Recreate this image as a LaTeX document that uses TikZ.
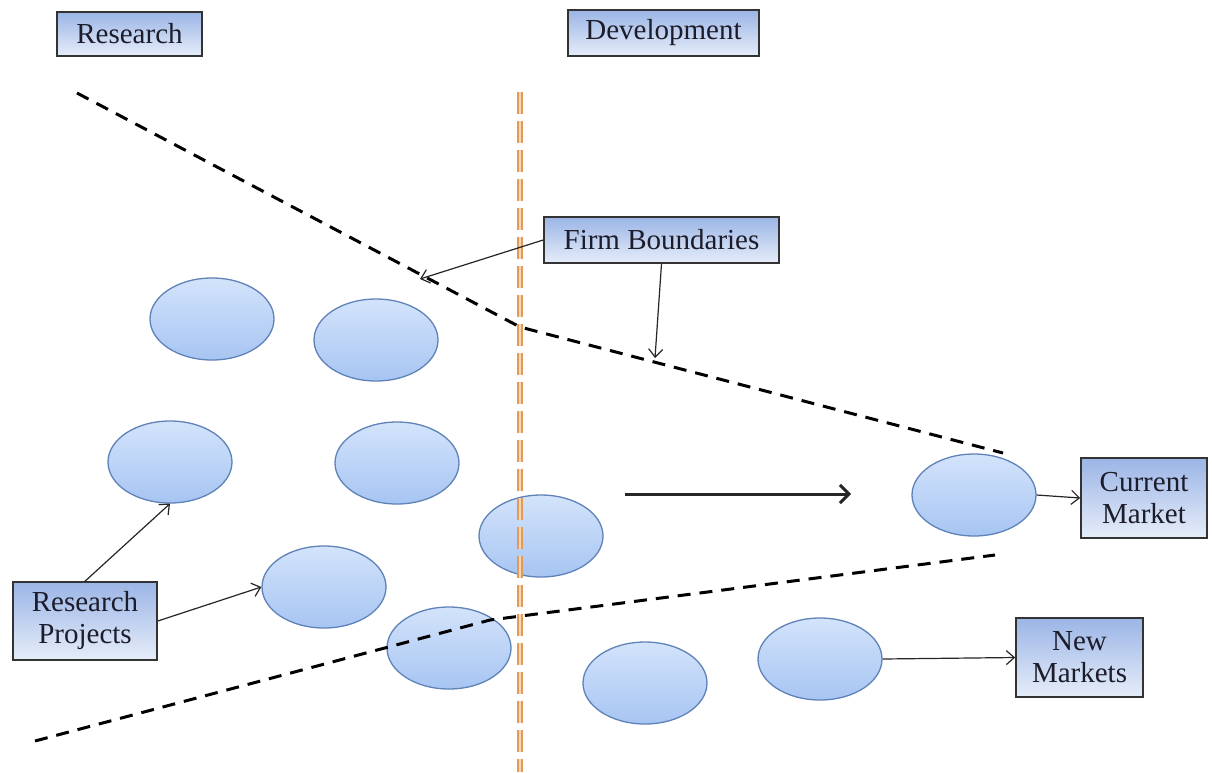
\documentclass[tikz,border=0pt]{standalone}
\usepackage{fontspec}
\setmainfont{Liberation Serif}
\usetikzlibrary{shapes.geometric,arrows.meta}
\definecolor{boxtop}{HTML}{9BB5E6}
\definecolor{boxbot}{HTML}{E6EDF9}
\definecolor{ovaltop}{HTML}{D3E3FB}
\definecolor{ovalbot}{HTML}{A7C5F2}
\definecolor{ovaledge}{HTML}{5F82B8}
\definecolor{divider}{HTML}{E39A55}
\definecolor{labeltext}{HTML}{1C1C2A}
\tikzset{
  labelbox/.style={draw=black!80, line width=1.6pt, top color=boxtop, bottom color=boxbot,
    align=center, inner sep=0pt, text=labeltext,
    font=\fontsize{29}{32}\selectfont},
  project/.style={ellipse, draw=ovaledge, line width=1.3pt, top color=ovaltop,
    bottom color=ovalbot, minimum width=124pt, minimum height=82pt, inner sep=0pt},
  pointer/.style={black!85, line width=1.2pt, -{Straight Barb[length=8pt,width=14pt]}},
  flow/.style={black!85, line width=3pt, -{Straight Barb[length=9pt,width=18pt,line width=3pt]}},
  boundary/.style={black, line width=3pt, dash pattern=on 13pt off 9pt},
  splitline/.style={divider, double=white!60!divider, double distance=1.4pt, line width=2.2pt,
    dash pattern=on 22pt off 7pt}
}
\begin{document}
\begin{tikzpicture}[x=1pt,y=-1pt]
\useasboundingbox (0,0) rectangle (1212,772);
\fill[white] (0,0) rectangle (1212,772);

% research projects
\node[project] (e1) at (212,319) {};
\node[project] (e2) at (376,340) {};
\node[project] (e3) at (170,462) {};
\node[project] (e4) at (397,463) {};
\node[project] (e5) at (541,536) {};
\node[project] (e6) at (324,587) {};
\node[project] (e7) at (449,648) {};
\node[project] (e8) at (645,683) {};
\node[project] (e9) at (820,659) {};
\node[project] (e10) at (974,495) {};

% research / development divider
\coordinate (divtop) at (520,92);
\coordinate (divbot) at (520,772);
\draw[splitline] (divtop) -- (divbot);

% firm boundaries
\coordinate (ua) at (77,93);
\coordinate (ub) at (520,327);
\coordinate (uc) at (1003,453);
\draw[boundary] (ua) -- (ub) -- (uc);
\coordinate (la) at (35,741);
\coordinate (lb) at (490,620);
\coordinate (lc) at (995,555);
\draw[boundary] (la) -- (lb) -- (lc);

% labels
\node[labelbox, minimum width=145pt, minimum height=44pt] (research) at (129.5,34) {Research};
\node[labelbox, minimum width=191pt, minimum height=46pt] (devel) at (663.5,33) {Development};
\node[labelbox, minimum width=235pt, minimum height=46pt] (fb) at (661.5,240) {Firm Boundaries};
\node[labelbox, minimum width=144pt, minimum height=78pt] (rp) at (85,621) {Research\\Projects};
\node[labelbox, minimum width=126pt, minimum height=80pt] (cm) at (1144,498) {Current\\Market};
\node[labelbox, minimum width=127pt, minimum height=79pt] (nm) at (1079.5,657.5) {New\\Markets};

% connectors
\coordinate (fbup) at (420,279);
\coordinate (fblow) at (655,358);
\draw[pointer] (fb.west) -- (fbup);
\draw[pointer] (fb.south) -- (fblow);
\draw[pointer] (rp.north) -- (e3.south);
\draw[pointer] (rp.east) -- (e6.west);
\draw[pointer] (e10.east) -- (cm.west);
\draw[pointer] (e9.east) -- (nm.west);
\coordinate (flowa) at (625,494);
\coordinate (flowb) at (851,494);
\draw[flow] (flowa) -- (flowb);
\end{tikzpicture}
\end{document}
